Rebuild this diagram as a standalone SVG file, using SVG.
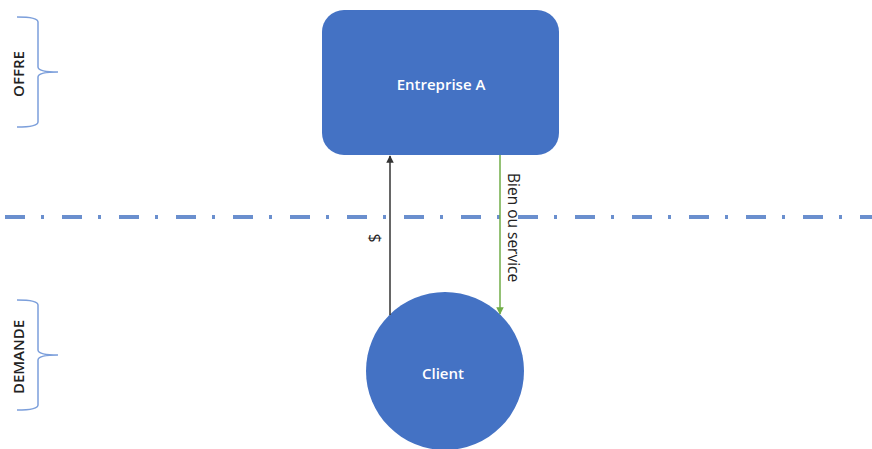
<svg xmlns="http://www.w3.org/2000/svg" width="872" height="449" viewBox="0 0 872 449">
<style>
.node{fill:#4472C4;}
.lbl{font-family:"Open Sans","Liberation Sans",sans-serif;font-size:15px;font-weight:600;fill:#ffffff;text-anchor:middle;dominant-baseline:central;}
.side{font-family:"Open Sans","Liberation Sans",sans-serif;font-size:15px;font-weight:600;fill:#222;text-anchor:middle;dominant-baseline:central;}
.brace{fill:none;stroke:#7C9FDB;stroke-width:1.5;}
.cl{font-family:"Open Sans","Liberation Sans",sans-serif;font-size:15.5px;fill:#222;dominant-baseline:central;}
</style>
<defs>
<marker id="ab" viewBox="0 0 10 10" refX="9" refY="5" markerWidth="5" markerHeight="5" orient="auto"><path d="M0,0 L10,5 L0,10 z" fill="#333"/></marker>
<marker id="ag" viewBox="0 0 10 10" refX="9" refY="5" markerWidth="5" markerHeight="5" orient="auto"><path d="M0,0 L10,5 L0,10 z" fill="#70AD47"/></marker>
</defs>
<rect width="872" height="449" fill="#ffffff"/>
<line x1="5" y1="217" x2="872" y2="217" stroke="#6A8FCE" stroke-width="4" stroke-dasharray="20 16 3 18"/>
<g id="offre">
<path class="brace" d="M17,17 Q38,17 38,22 L38,67 Q38,72 58,72 Q38,72 38,77 L38,122 Q38,127 17,127"/>
<text class="side" transform="translate(18,74) rotate(-90)">OFFRE</text>
</g>
<g id="demande">
<path class="brace" d="M17,300 Q38,300 38,305 L38,350 Q38,355 58,355 Q38,355 38,360 L38,405 Q38,410 17,410"/>
<text class="side" transform="translate(18,357) rotate(-90)">DEMANDE</text>
</g>
<g id="entreprise">
<rect class="node" x="322" y="10" width="237" height="145" rx="22"/>
<text class="lbl" x="441" y="84">Entreprise A</text>
</g>
<g id="client">
<circle class="node" cx="445" cy="371" r="79"/>
<text class="lbl" x="443" y="373">Client</text>
</g>
<g id="connectors">
<line x1="390" y1="315" x2="390" y2="156" stroke="#333" stroke-width="1.5" marker-end="url(#ab)"/>
<text class="cl" text-anchor="middle" transform="translate(374,238) rotate(-90)">$</text>
<line x1="500" y1="155" x2="500" y2="314" stroke="#70AD47" stroke-width="1.5" marker-end="url(#ag)"/>
<text class="cl" transform="translate(514,173) rotate(90)">Bien ou service</text>
</g>
</svg>
